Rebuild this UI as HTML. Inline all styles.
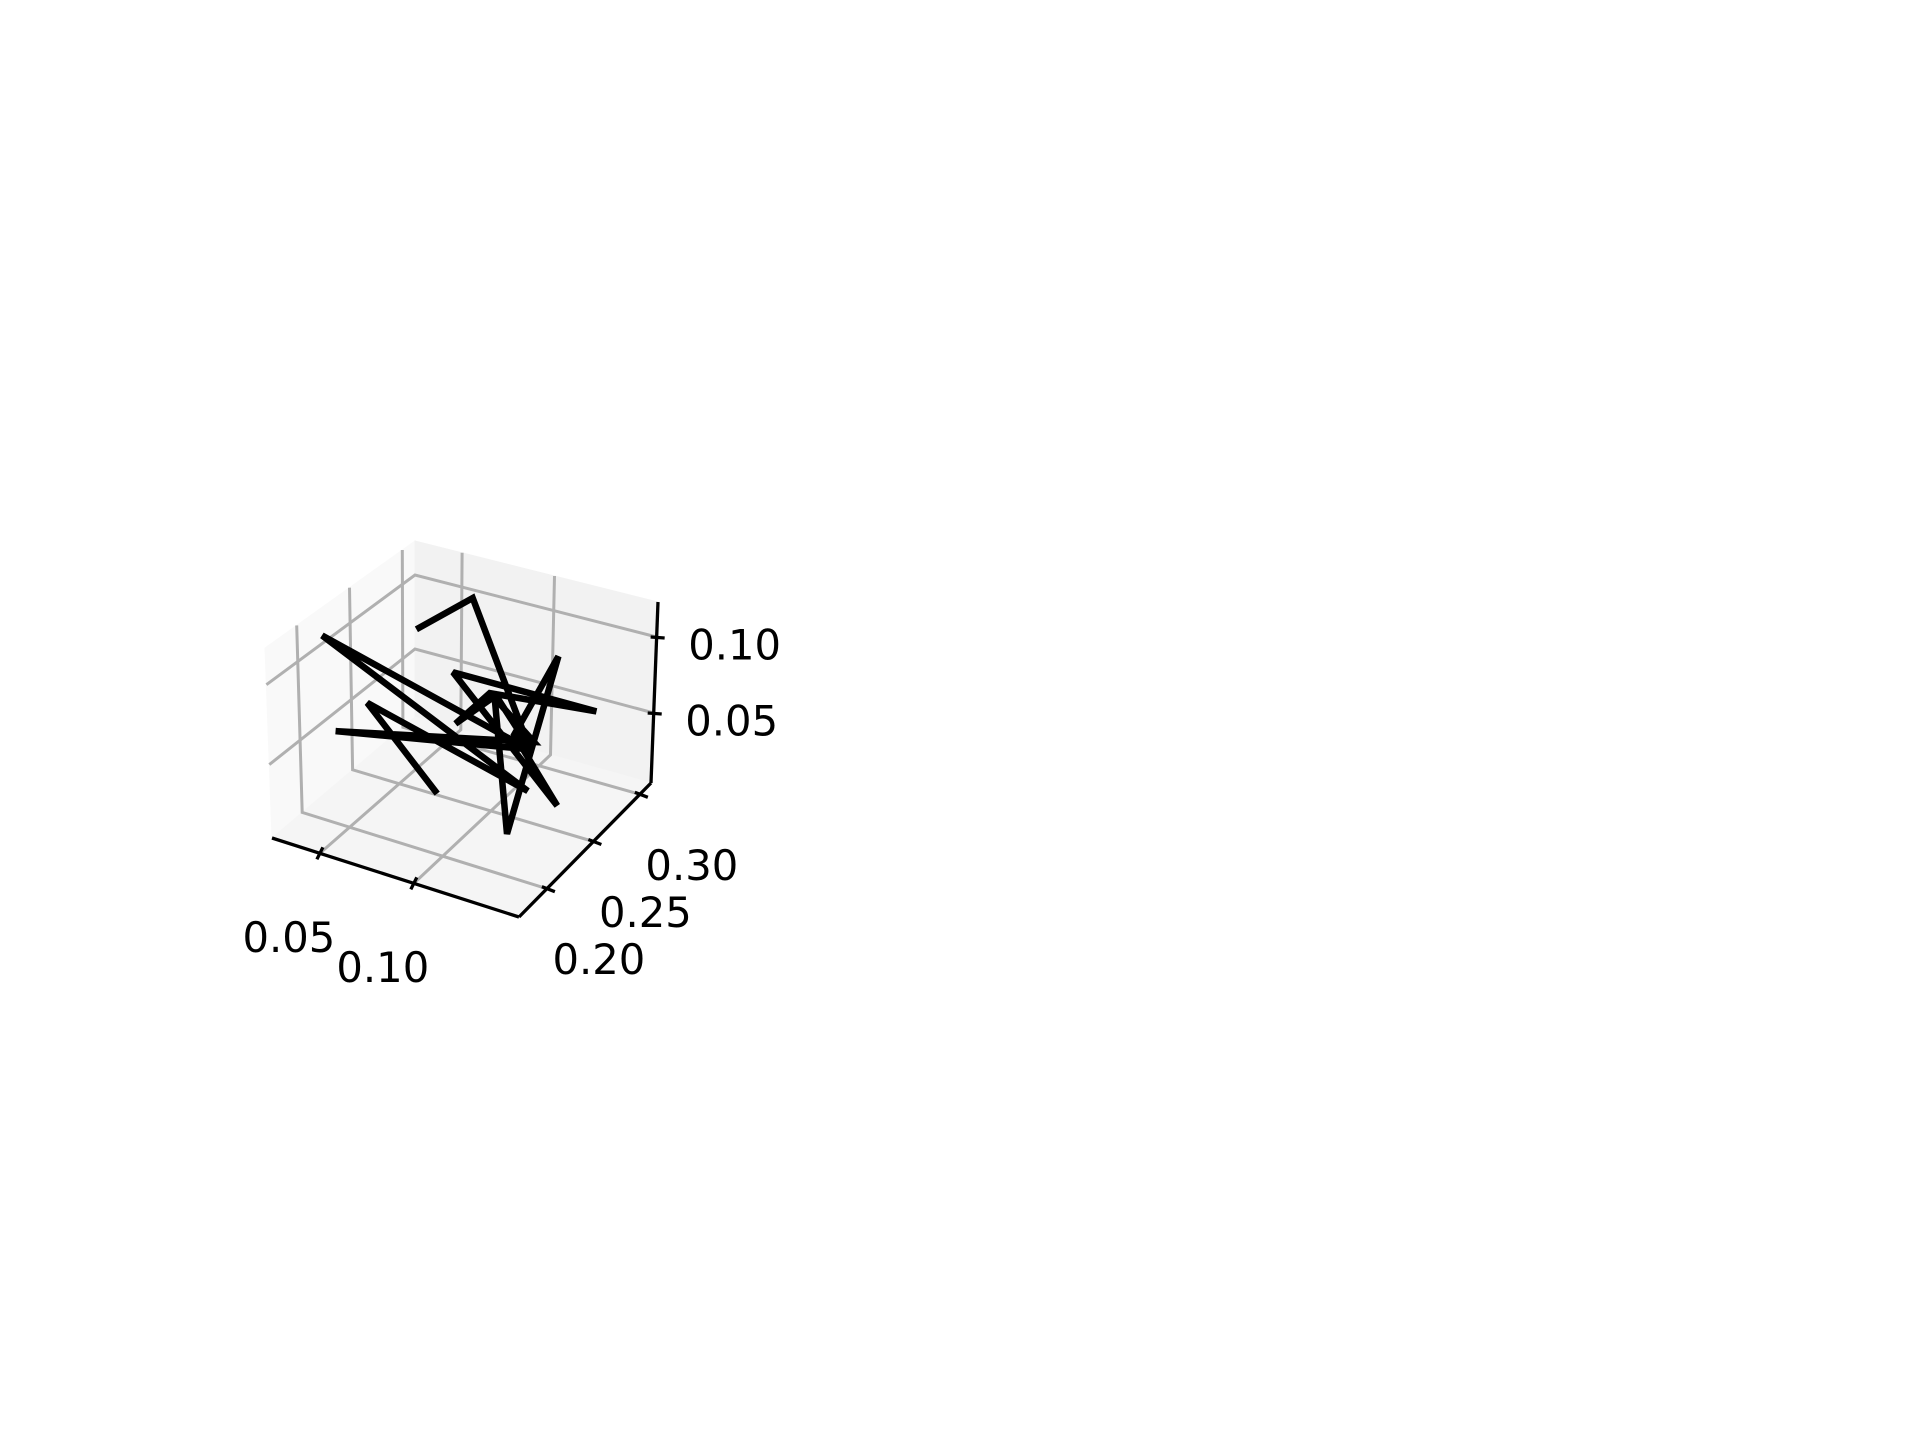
<!DOCTYPE html>
<html>
<head>
<meta charset="utf-8">
<style>
  html,body{margin:0;padding:0;background:#fff;}
  svg{display:block;}
  text{font-family:"DejaVu Sans","Liberation Sans",sans-serif;font-size:41.7px;fill:#000;}
</style>
</head>
<body>
<svg id="chart" width="1920" height="1440" viewBox="0 0 1920 1440" xmlns="http://www.w3.org/2000/svg">
  <rect x="0" y="0" width="1920" height="1440" fill="#ffffff"/>
  <g id="panes"></g>
  <g id="grid"></g>
  <g id="axes"></g>
  <g id="series"></g>
  <g id="labels"></g>
</svg>
<script>
// ---- data (3D line series) ----
const seriesX = [0.0448, 0.0698, 0.1345, 0.1020, 0.1003, 0.0888, 0.1406, 0.0742, 0.1445, 0.1167, 0.1105, 0.1277, 0.0815, 0.1222, 0.0414, 0.1493, 0.0392, 0.1140, 0.0385, 0.0856];
const seriesY = [0.28, 0.29, 0.22, 0.25, 0.21, 0.27, 0.28, 0.26, 0.23, 0.24, 0.30, 0.21, 0.29, 0.25, 0.20, 0.19, 0.19, 0.26, 0.24, 0.22];
const seriesZ = [0.0808, 0.1040, 0.0763, 0.0786, 0.0840, 0.0633, 0.0654, 0.0768, 0.0373, 0.0655, 0.0768, 0.0251, 0.0455, 0.0570, 0.0630, 0.0982, 0.1282, 0.0172, 0.0559, 0.0286];
// ---- tick labels ----
const xTicks = [0.05, 0.10];
const xTickLabels = ["0.05", "0.10"];
const yTicks = [0.20, 0.25, 0.30];
const yTickLabels = ["0.20", "0.25", "0.30"];
const zTicks = [0.05, 0.10];
const zTickLabels = ["0.05", "0.10"];

const NS = "http://www.w3.org/2000/svg";
// axis limits
const X0 = 0.0245, X1 = 0.156, Y0 = 0.17, Y1 = 0.312, Z0 = 0.004, Z1 = 0.123;
// screen corners of the box (perspective approximated by trilinear interpolation)
const C = {
  A:[272,838], B:[519,917], Cc:[651,783], D:[415,717],
  E:[265,648], F:[522,722], G:[658,602], H:[415,541]
};
function lerp(p,q,t){return [p[0]+(q[0]-p[0])*t, p[1]+(q[1]-p[1])*t];}
function boxProj(x,y,z){
  const fx=(x-X0)/(X1-X0), fy=(y-Y0)/(Y1-Y0), fz=(z-Z0)/(Z1-Z0);
  const b0=lerp(C.A,C.B,fx), b1=lerp(C.D,C.Cc,fx);
  const t0=lerp(C.E,C.F,fx), t1=lerp(C.H,C.G,fx);
  const bot=lerp(b0,b1,fy), top=lerp(t0,t1,fy);
  return lerp(bot,top,fz);
}
// data projection (affine around plot centre)
const S = 1.2245;
function dataProj(x,y,z){
  const dx=x-0.09, dy=y-0.24, dz=z-0.06;
  const sx=379+1534*dx+760*dy;
  const sy=594+491*dx-771*dy-1300*dz;
  return [sx*S, sy*S];
}
function mk(tag, attrs, parent){
  const el=document.createElementNS(NS,tag);
  for(const k in attrs) el.setAttribute(k, attrs[k]);
  parent.appendChild(el);
  return el;
}
function pts(arr){return arr.map(p=>p[0].toFixed(1)+","+p[1].toFixed(1)).join(" ");}

// panes
const panes=document.getElementById("panes");
let el;
el=mk("polygon",{points:pts([C.A,C.D,C.H,C.E]),fill:"#f9f9f9",stroke:"#f9f9f9"},panes);


el=mk("polygon",{points:pts([C.D,C.Cc,C.G,C.H]),fill:"#f2f2f2",stroke:"#f2f2f2"},panes);


el=mk("polygon",{points:pts([C.A,C.B,C.Cc,C.D]),fill:"#f5f5f5",stroke:"#f5f5f5"},panes);



// grid
const grid=document.getElementById("grid");
const gs={fill:"none",stroke:"#b0b0b0","stroke-width":3};
function gline(points){
  const g=mk("polyline",Object.assign({points:pts(points)},gs),grid);
  return g;
}
xTicks.forEach(v=>{
  const g=gline([boxProj(v,Y0,Z0),boxProj(v,Y1,Z0),boxProj(v,Y1,Z1)]);
  
  
});
yTicks.forEach(v=>{
  const g=gline([boxProj(X1,v,Z0),boxProj(X0,v,Z0),boxProj(X0,v,Z1)]);
  
  
});
zTicks.forEach(v=>{
  const g=gline([boxProj(X0,Y0,v),boxProj(X0,Y1,v),boxProj(X1,Y1,v)]);
  
  
});

// axes
const axes=document.getElementById("axes");
const as={fill:"none",stroke:"#000","stroke-width":3.3};
el=mk("line",Object.assign({x1:C.A[0],y1:C.A[1],x2:C.B[0],y2:C.B[1]},as),axes);


el=mk("line",Object.assign({x1:C.B[0],y1:C.B[1],x2:C.Cc[0],y2:C.Cc[1]},as),axes);


el=mk("line",Object.assign({x1:C.Cc[0],y1:C.Cc[1],x2:C.G[0],y2:C.G[1]},as),axes);



const labels=document.getElementById("labels");
const xLabelPos=[[289.5,938],[383.5,970]];
const yLabelOff=[0,0,0];
xTicks.forEach((v,i)=>{
  const p=boxProj(v,Y0,Z0);
  const t=mk("line",Object.assign({x1:p[0]+3,y1:p[1]-6,x2:p[0]-3,y2:p[1]+6},as),axes);
  
  
  const lab=mk("text",{x:p[0]-31,y:p[1]+84,"text-anchor":"middle","dominant-baseline":"central"},labels);
  lab.textContent=xTickLabels[i];
  
  
});
yTicks.forEach((v,i)=>{
  const p=boxProj(X1,v,Z0);
  const t=mk("line",Object.assign({x1:p[0]-5,y1:p[1]-2,x2:p[0]+8,y2:p[1]+3},as),axes);
  
  
  const lab=mk("text",{x:p[0]+52,y:p[1]+71,"text-anchor":"middle","dominant-baseline":"central"},labels);
  lab.textContent=yTickLabels[i];
  
  
});
zTicks.forEach((v,i)=>{
  const p=boxProj(X1,Y1,v);
  const t=mk("line",Object.assign({x1:p[0]-6,y1:p[1],x2:p[0]+8,y2:p[1]+1},as),axes);
  
  
  const lab=mk("text",{x:p[0]+78,y:p[1]+8,"text-anchor":"middle","dominant-baseline":"central"},labels);
  lab.textContent=zTickLabels[i];
  
  
});

// series
const series=document.getElementById("series");
const path=seriesX.map((x,i)=>dataProj(x,seriesY[i],seriesZ[i]));
const line=mk("polyline",{points:pts(path),fill:"none",stroke:"#000","stroke-width":6.5,"stroke-linejoin":"miter","stroke-miterlimit":3,"stroke-linecap":"butt"},series);


</script>
</body>
</html>
